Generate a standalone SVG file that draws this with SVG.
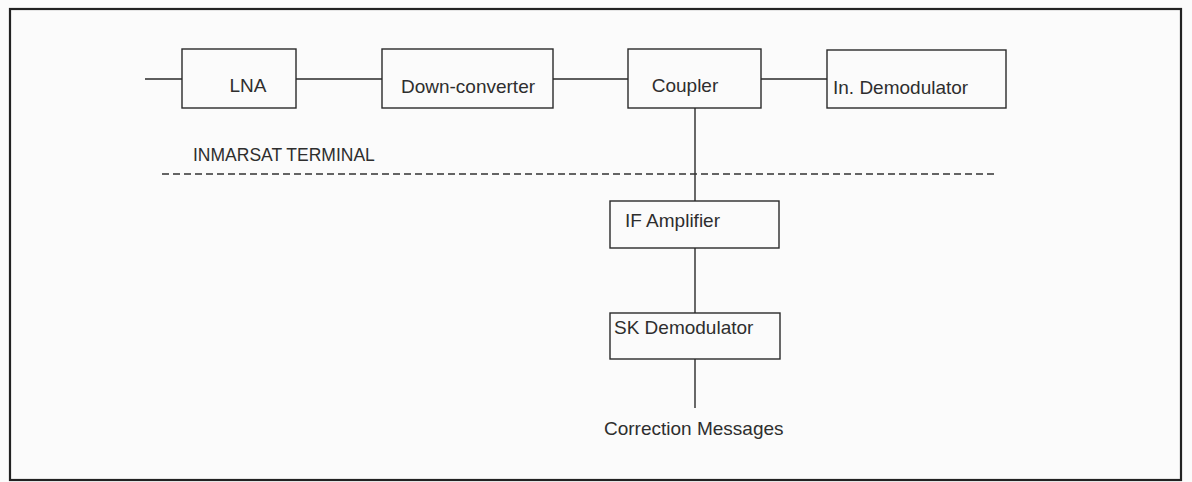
<svg xmlns="http://www.w3.org/2000/svg" width="1192" height="482" viewBox="0 0 1192 482">
<style>
.box{fill:none;stroke:#2a2a2a;stroke-width:1.4}
.lbl{font-family:"Liberation Sans",Arial,sans-serif;font-size:19px;fill:#2e2e2e}
.ln{fill:none;stroke:#2a2a2a;stroke-width:1.4}
.dash{fill:none;stroke:#333;stroke-width:1.3;stroke-dasharray:7 4}
</style>
<rect x="0" y="0" width="1192" height="482" fill="#fbfbfb"/>
<rect x="10" y="9" width="1171" height="471" fill="none" stroke="#222" stroke-width="2.2"/>
<g id="connectors">
<line class="ln" x1="145" y1="79" x2="182" y2="79"/>
<line class="ln" x1="296" y1="79" x2="382" y2="79"/>
<line class="ln" x1="553" y1="79" x2="628" y2="79"/>
<line class="ln" x1="761" y1="79" x2="827" y2="79"/>
<line class="ln" x1="695" y1="108" x2="695" y2="201"/>
<line class="ln" x1="695" y1="248" x2="695" y2="313"/>
<line class="ln" x1="695" y1="359" x2="695" y2="408"/>
</g>
<g id="lna"><rect class="box" x="182" y="49" width="114" height="59"/><text class="lbl" x="248" y="92" text-anchor="middle">LNA</text></g>
<g id="downconverter"><rect class="box" x="382" y="49" width="171" height="59"/><text class="lbl" x="468" y="93" text-anchor="middle">Down-converter</text></g>
<g id="coupler"><rect class="box" x="628" y="49" width="133" height="59"/><text class="lbl" x="685" y="92" text-anchor="middle">Coupler</text></g>
<g id="indemod"><rect class="box" x="827" y="50" width="179" height="58"/><text class="lbl" x="833" y="94">In. Demodulator</text></g>
<g id="terminal"><text class="lbl" x="193" y="161" style="font-size:17.5px">INMARSAT TERMINAL</text><line class="dash" x1="162" y1="174" x2="998" y2="174"/></g>
<g id="ifamp"><rect class="box" x="610" y="201" width="169" height="47"/><text class="lbl" x="625" y="227">IF Amplifier</text></g>
<g id="skdemod"><rect class="box" x="610" y="313" width="170" height="46"/><text class="lbl" x="614" y="334">SK Demodulator</text></g>
<g id="output"><text class="lbl" x="604" y="435">Correction Messages</text></g>
</svg>
